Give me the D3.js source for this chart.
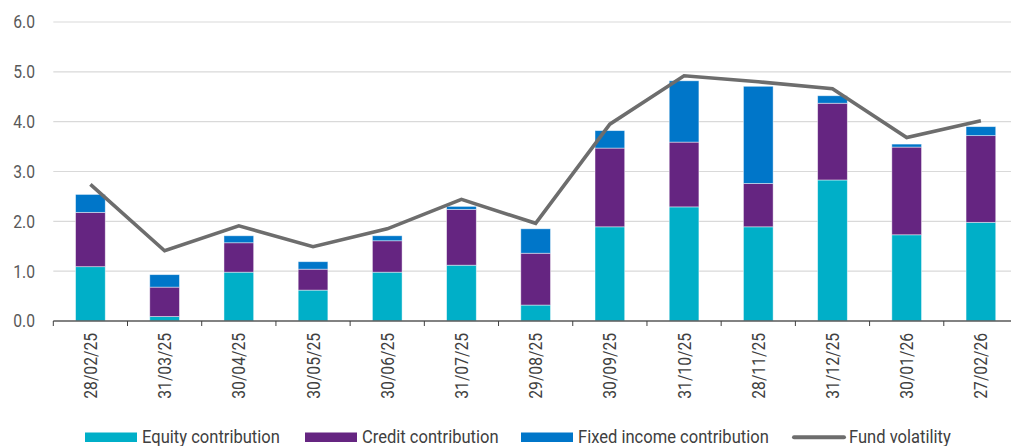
<!DOCTYPE html>
<html>
<head>
<meta charset="utf-8">
<script src="https://cdn.jsdelivr.net/npm/d3@7"></script>
<style>
  body { margin: 0; background: #fff; }
  text { font-family: Roboto, "Noto Sans", sans-serif; }
</style>
</head>
<body>
<div class="canvas"></div>
<script>
// dates on the x axis
const dates = ["28/02/25", "31/03/25", "30/04/25", "30/05/25", "30/06/25", "31/07/25",
  "29/08/25", "30/09/25", "31/10/25", "28/11/25", "31/12/25", "30/01/26", "27/02/26"];

// stacked contributions
const equity = [1.09, 0.09, 0.98, 0.62, 0.98, 1.12, 0.32, 1.89, 2.29, 1.89, 2.83, 1.73, 1.98];
const credit = [1.09, 0.59, 0.59, 0.42, 0.63, 1.12, 1.04, 1.58, 1.30, 0.87, 1.54, 1.76, 1.74];
const fixedIncome = [0.36, 0.25, 0.14, 0.15, 0.10, 0.06, 0.49, 0.35, 1.23, 1.95, 0.15, 0.06, 0.18];

// line
const volatility = [2.74, 1.41, 1.91, 1.49, 1.85, 2.44, 1.96, 3.95, 4.92, 4.80, 4.66, 3.68, 4.02];

const yTicks = [0, 1, 2, 3, 4, 5, 6];

const seriesNames = ["Equity contribution", "Credit contribution", "Fixed income contribution"];
const colors = ["#00afc8", "#652581", "#0076c9"];
const lineColor = "#6d6d6d";
const squeeze = 0.87; // narrow the font a bit, like a condensed face
const legendSqueeze = 0.92;

const width = 1011, height = 446;

const svg = d3.select(".canvas")
  .append("svg")
  .attr("width", width)
  .attr("height", height);

const x = d3.scaleBand()
  .domain(dates)
  .range([53.3, 1018])
  .paddingInner(0.6)
  .paddingOuter(0.3);

const y = d3.scaleLinear()
  .domain([0, 6])
  .range([321, 22]);

// gridlines + y labels
const yAxis = svg.append("g");
yAxis.selectAll("line")
  .data(yTicks.filter(d => d > 0))
  .join("line")
  .attr("x1", 53.3)
  .attr("x2", width)
  .attr("y1", d => y(d))
  .attr("y2", d => y(d))
  .attr("stroke", "#d9d9d9")
  .attr("stroke-width", 1.2);

yAxis.selectAll("text")
  .data(yTicks)
  .join("text")
  .attr("transform", d => `translate(35,${y(d)}) scale(${squeeze},1)`)
  .attr("dy", "0.36em")
  .attr("text-anchor", "end")
  .attr("font-size", 18)
  .attr("fill", "#595959")
  .text(d => d.toFixed(1));

// stacked bars
const rows = dates.map((d, i) => ({
  date: d,
  [seriesNames[0]]: equity[i],
  [seriesNames[1]]: credit[i],
  [seriesNames[2]]: fixedIncome[i]
}));
const stacked = d3.stack().keys(seriesNames)(rows);

svg.append("g")
  .selectAll("g")
  .data(stacked)
  .join("g")
  .attr("fill", (d, i) => colors[i])
  .selectAll("rect")
  .data(d => d)
  .join("rect")
  .attr("x", d => x(d.data.date))
  .attr("width", x.bandwidth())
  .attr("y", d => y(d[1]))
  .attr("height", d => y(d[0]) - y(d[1]))
  .attr("stroke", "#ffffff")
  .attr("stroke-opacity", 0.55)
  .attr("stroke-width", 0.8);

// bottom axis
const step = x.step();
const gap = step - x.bandwidth();
const xAxis = svg.append("g");
xAxis.append("line")
  .attr("x1", 53.3)
  .attr("x2", width)
  .attr("y1", y(0))
  .attr("y2", y(0))
  .attr("stroke", "#595959")
  .attr("stroke-width", 1.5);

xAxis.selectAll(".tick")
  .data(dates)
  .join("line")
  .attr("class", "tick")
  .attr("x1", d => x(d) - gap / 2)
  .attr("x2", d => x(d) - gap / 2)
  .attr("y1", y(0))
  .attr("y2", y(0) + 5)
  .attr("stroke", "#404040")
  .attr("stroke-width", 1);

xAxis.selectAll("text")
  .data(dates)
  .join("text")
  .attr("transform", d => `translate(${x(d) + x.bandwidth() / 2},333) rotate(-90) scale(${squeeze},1)`)
  .attr("dy", "0.36em")
  .attr("text-anchor", "end")
  .attr("font-size", 18)
  .attr("fill", "#404040")
  .text(d => d);

// volatility line
const line = d3.line()
  .x((d, i) => x(dates[i]) + x.bandwidth() / 2)
  .y(d => y(d));

svg.append("path")
  .datum(volatility)
  .attr("d", line)
  .attr("fill", "none")
  .attr("stroke", lineColor)
  .attr("stroke-width", 3.6)
  .attr("stroke-linejoin", "miter");

// legend
const legendItems = [
  { name: seriesNames[0], color: colors[0], x: 85, type: "rect" },
  { name: seriesNames[1], color: colors[1], x: 305, type: "rect" },
  { name: seriesNames[2], color: colors[2], x: 521, type: "rect" },
  { name: "Fund volatility", color: lineColor, x: 792, type: "line" }
];

const legend = svg.append("g");
legendItems.forEach(item => {
  if (item.type === "rect") {
    legend.append("rect")
      .attr("x", item.x)
      .attr("y", 432.5)
      .attr("width", 52)
      .attr("height", 9.5)
      .attr("fill", item.color);
  } else {
    legend.append("line")
      .attr("x1", item.x + 2)
      .attr("x2", item.x + 52)
      .attr("y1", 437.3)
      .attr("y2", 437.3)
      .attr("stroke", item.color)
      .attr("stroke-width", 4)
      .attr("stroke-linecap", "round");
  }
  legend.append("text")
    .attr("transform", `translate(${item.x + 57},443) scale(${legendSqueeze},1)`)
    .attr("font-size", 18)
    .attr("fill", "#404040")
    .text(item.name);
});
</script>
</body>
</html>
